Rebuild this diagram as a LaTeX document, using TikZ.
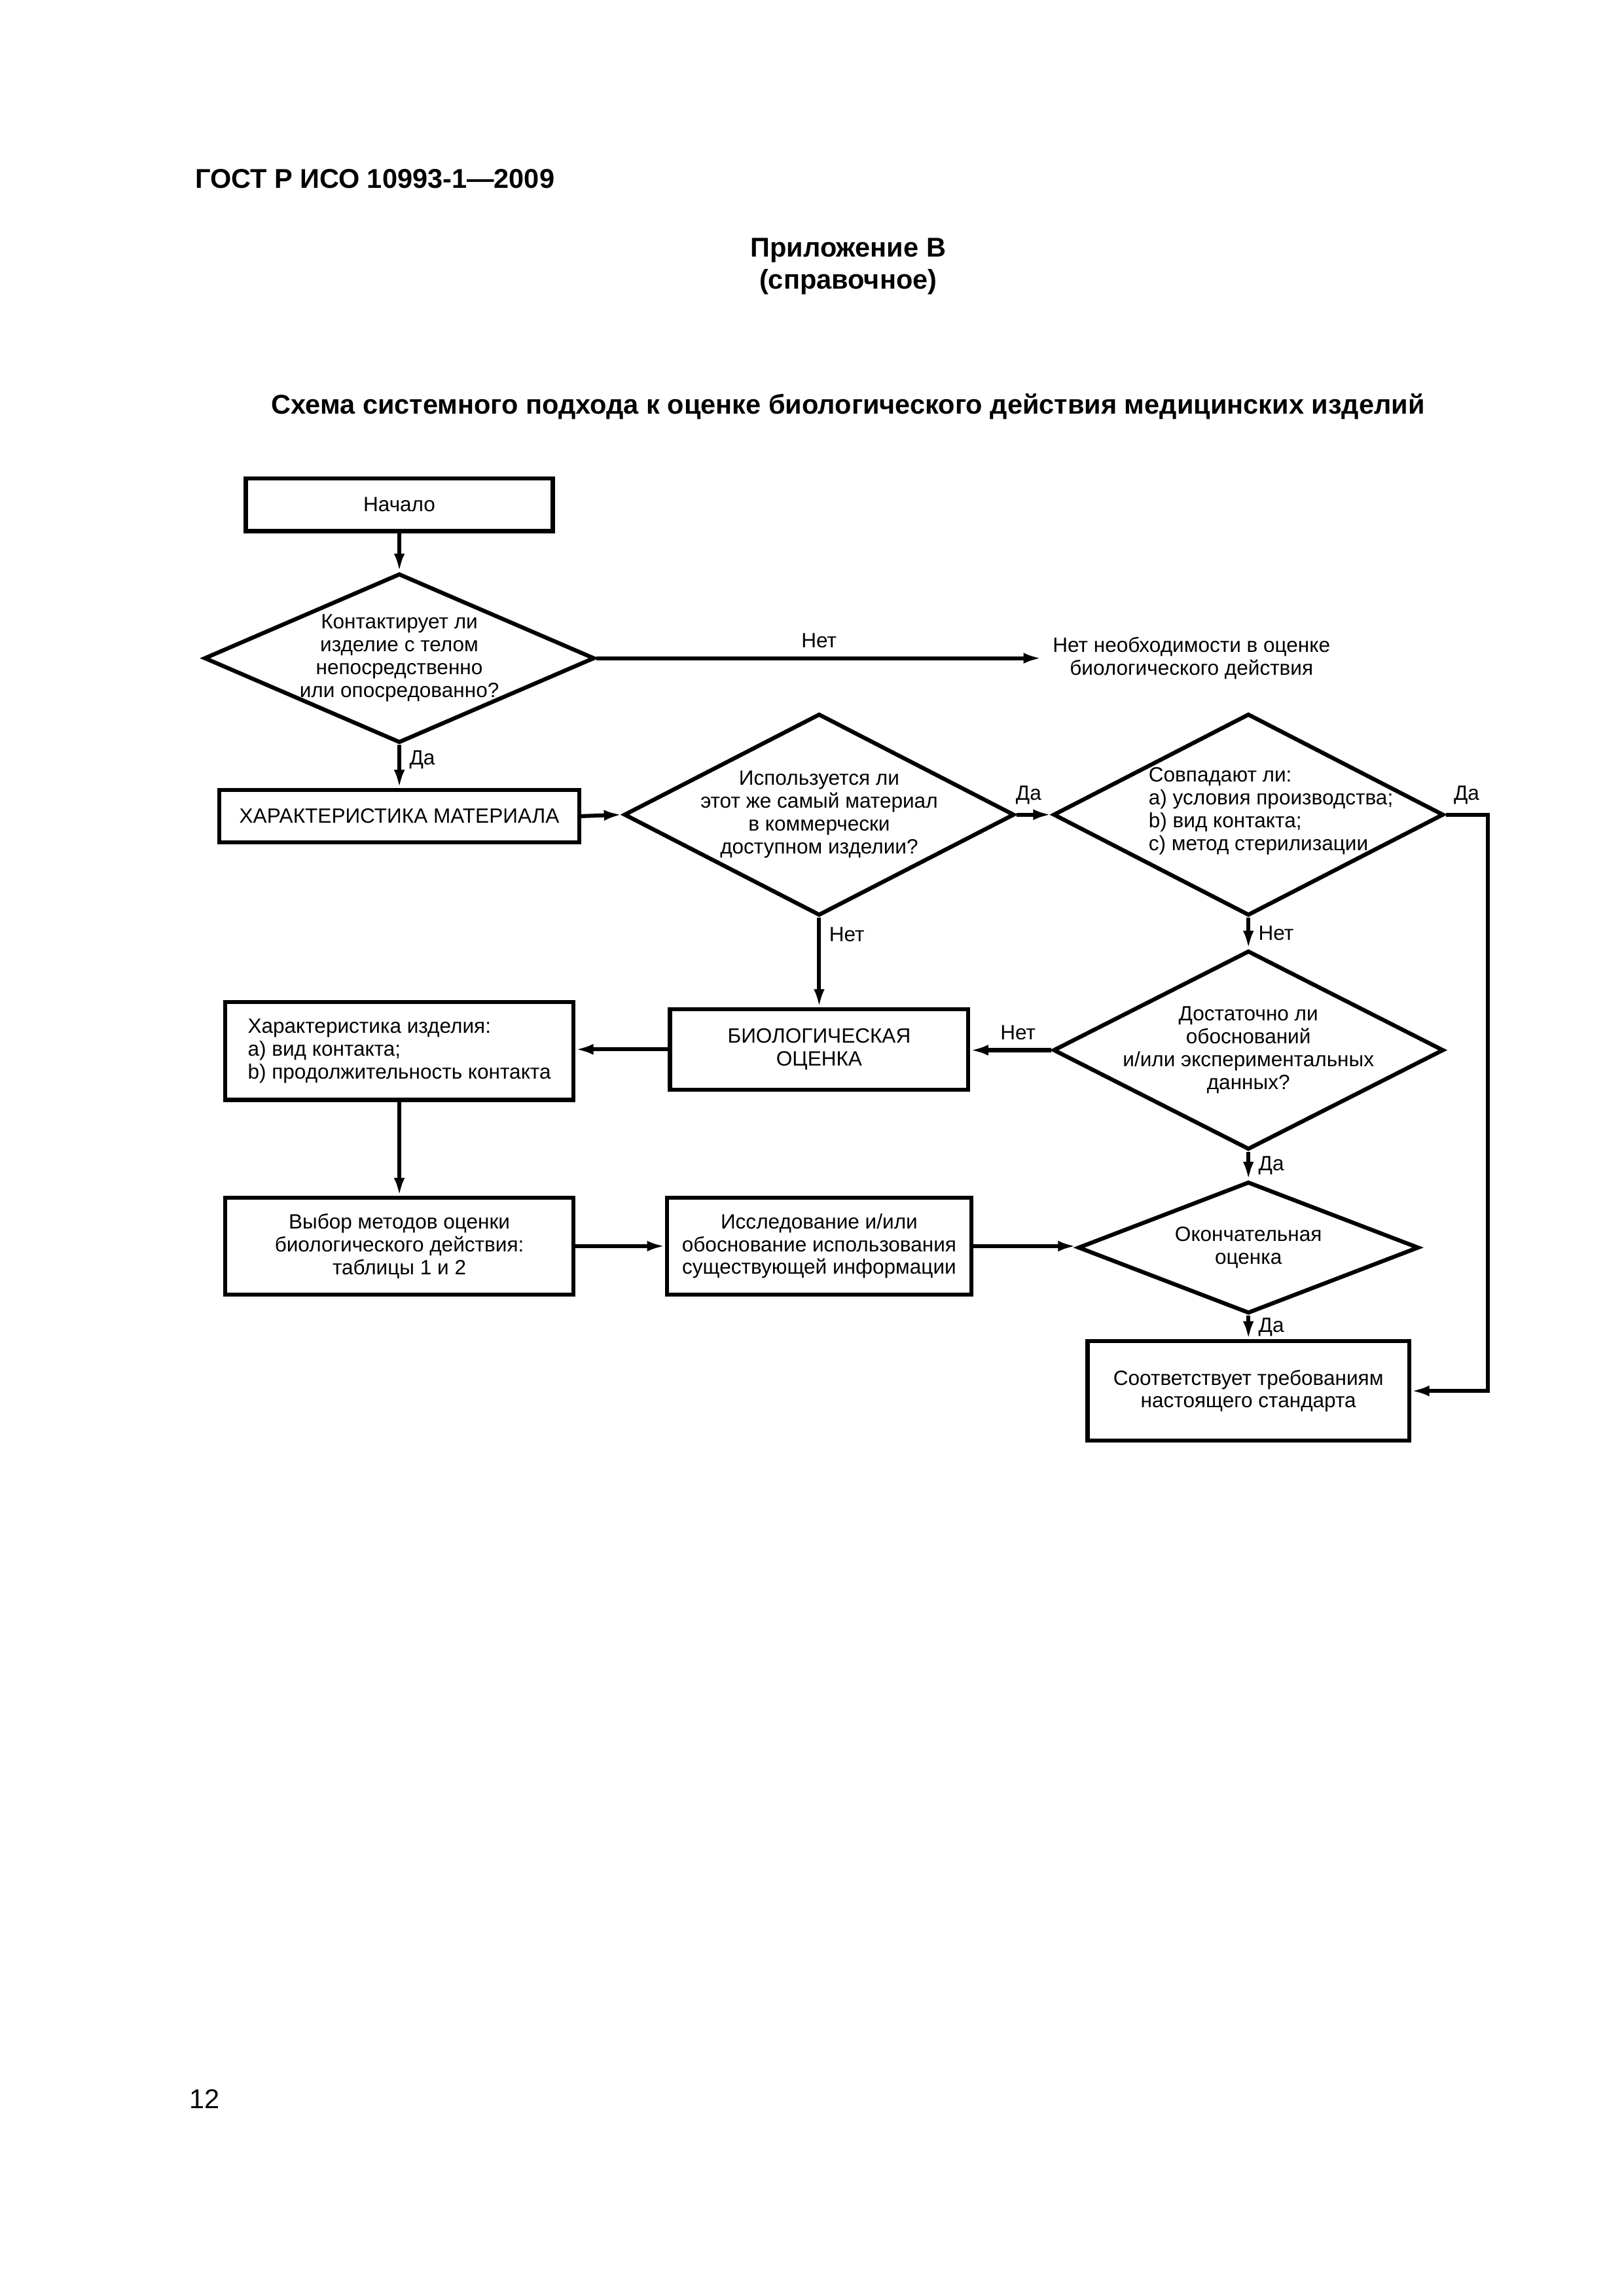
\documentclass[tikz,border=0pt]{standalone}
\usepackage{fontspec}
\setmainfont{Liberation Sans}
\usetikzlibrary{shapes.geometric,arrows.meta,positioning}

\newcommand{\flowfont}{\fontsize{7.6}{8.4}\selectfont}
\newcommand{\headfont}{\bfseries\fontsize{10}{12}\selectfont}

\tikzset{
  block/.style={draw, line width=1.5pt, inner sep=0pt, font=\flowfont, align=center},
  decision/.style={draw, diamond, line width=1.5pt, inner sep=0pt},
  txt/.style={font=\flowfont, align=center, inner sep=0pt},
  conn/.style={line width=1.45pt, -{Latex[length=6.6pt,width=4pt]}},
  answer/.style={font=\flowfont, inner sep=3pt},
}

\begin{document}
\begin{tikzpicture}
\useasboundingbox (0,0) rectangle (21,-29.7);
% Header
\node[font=\headfont, anchor=west, inner sep=0pt] (gost) at (2.516,-2.31) {ГОСТ Р ИСО 10993-1—2009};
\node[font=\headfont] (annex) at (10.97,-3.24) {Приложение В};
\node[font=\headfont] (annexkind) at (10.97,-3.65) {(справочное)};
\node[font=\headfont] (title) at (10.97,-5.26) {Схема системного подхода к оценке биологического действия медицинских изделий};

% Left column
\node[block, minimum width=3.97cm, minimum height=0.68cm] (start) at (5.165,-6.53) {Начало};
\node[decision, minimum width=5.05cm, minimum height=2.19cm] (contact) at (5.165,-8.514) {};
\node[txt] (contacttxt) at (contact) {Контактирует ли\\изделие с телом\\непосредственно\\или опосредованно?};
\node[txt, anchor=west, inner sep=4pt] (noneed) at (13.47,-8.514) {Нет необходимости в оценке\\биологического действия};
\node[block, minimum width=4.654cm, minimum height=0.681cm] (matchar) at (5.165,-10.557) {ХАРАКТЕРИСТИКА МАТЕРИАЛА};
\node[block, align=left, minimum width=4.503cm, minimum height=1.268cm] (devchar) at (5.165,-13.593) {Характеристика изделия:\\a) вид контакта;\\b) продолжительность контакта};
\node[block, minimum width=4.503cm, minimum height=1.249cm] (methods) at (5.165,-16.119) {Выбор методов оценки\\биологического действия:\\таблицы 1 и 2};

% Middle column
\node[decision, minimum width=5.05cm, minimum height=2.61cm] (samemat) at (10.595,-10.538) {};
\node[txt] (samemattxt) at (samemat) {Используется ли\\этот же самый материал\\в коммерчески\\доступном изделии?};
\node[block, minimum width=3.859cm, minimum height=1.041cm] (bioeval) at (10.595,-13.574) {БИОЛОГИЧЕСКАЯ\\ОЦЕНКА};
\node[block, minimum width=3.935cm, minimum height=1.249cm] (study) at (10.595,-16.119) {Исследование и/или\\обоснование использования\\существующей информации};

% Right column
\node[decision, minimum width=5.05cm, minimum height=2.61cm] (match) at (16.147,-10.538) {};
\node[txt, align=left, anchor=west] (matchtxt) at (14.85,-10.49) {Совпадают ли:\\a) условия производства;\\b) вид контакта;\\c) метод стерилизации};
\node[decision, minimum width=5.05cm, minimum height=2.573cm] (enough) at (16.147,-13.584) {};
\node[txt] (enoughtxt) at (enough) {Достаточно ли\\обоснований\\и/или экспериментальных\\данных?};
\node[decision, minimum width=4.408cm, minimum height=1.703cm] (finaleval) at (16.147,-16.138) {};
\node[txt] (finalevaltxt) at (finaleval) {Окончательная\\оценка};
\node[block, minimum width=4.162cm, minimum height=1.286cm] (complies) at (16.147,-17.992) {Соответствует требованиям\\настоящего стандарта};
\coordinate (bend) at (19.24,-10.538);

% Connectors
\draw[conn] (start.south) -- (contact.north);
\draw[conn] (contact.east) -- node[answer, above] {Нет} (noneed.west);
\draw[conn] (contact.south) -- node[answer, right, pos=0.35] {Да} (matchar.north);
\draw[conn] (matchar.east) -- (samemat.west);
\draw[conn] (samemat.east) -- node[answer, above, pos=0.35] {Да} (match.west);
\draw[conn] (match.east) -- node[answer, above] {Да} (bend) |- (complies.east);
\draw[conn] (samemat.south) -- node[answer, right, pos=0.19] {Нет} (bioeval.north);
\draw[conn] (match.south) -- node[answer, right] {Нет} (enough.north);
\draw[conn] (enough.west) -- node[answer, above, pos=0.41] {Нет} (enough.west -| bioeval.east);
\draw[conn] (bioeval.west) -- (bioeval.west -| devchar.east);
\draw[conn] (devchar.south) -- (methods.north);
\draw[conn] (methods.east) -- (study.west);
\draw[conn] (study.east) -- (study.east -| finaleval.west);
\draw[conn] (enough.south) -- node[answer, right] {Да} (finaleval.north);
\draw[conn] (finaleval.south) -- node[answer, right] {Да} (complies.north);

% Page number
\node[font=\fontsize{10}{12}\selectfont] (pagenum) at (2.65,-27.15) {12};
\end{tikzpicture}
\end{document}
